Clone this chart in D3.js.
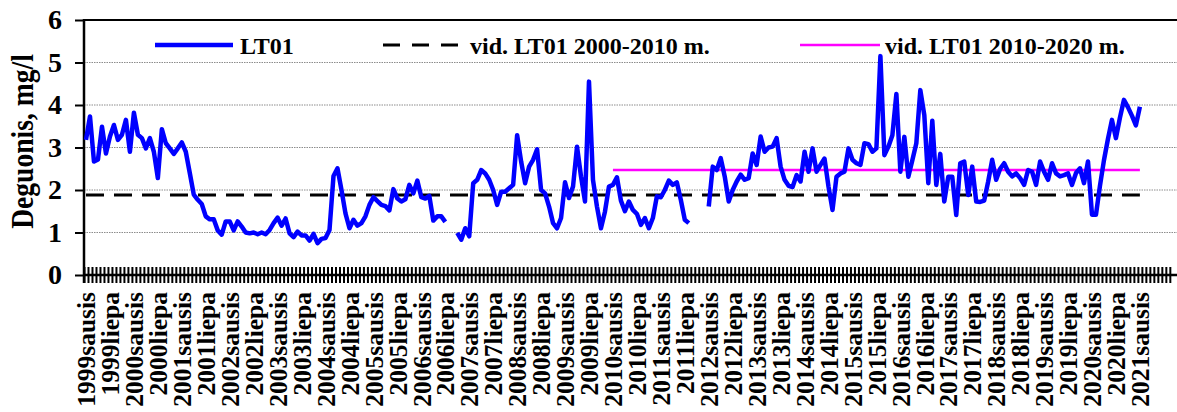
<!DOCTYPE html>
<html>
<head>
<meta charset="utf-8">
<script src="https://cdn.jsdelivr.net/npm/d3@7"></script>
<style>
  html, body { margin: 0; padding: 0; background: #fff; }
  svg { display: block; }
  text { font-family: "Liberation Serif", "Times New Roman", serif; font-weight: bold; fill: #000; }
</style>
</head>
<body>
<svg id="chart" width="1177" height="412"></svg>
<script>
// Monthly dissolved oxygen, station LT01 (mg/l), starting 1999 January.
// null marks months without a measurement.
const lt01 = [
  // 1999
  3.18, 3.73, 2.67, 2.72, 3.49, 2.86, 3.26, 3.53, 3.18, 3.30, 3.65, 2.90,
  // 2000
  3.82, 3.30, 3.22, 2.98, 3.22, 2.90, 2.28, 3.43, 3.10, 2.98, 2.85, 2.98,
  // 2001
  3.12, 2.90, 2.40, 1.89, 1.77, 1.67, 1.38, 1.31, 1.31, 1.05, 0.95, 1.26,
  // 2002
  1.26, 1.05, 1.26, 1.14, 1.00, 0.98, 1.00, 0.96, 1.00, 0.96, 1.06, 1.22,
  // 2003
  1.35, 1.16, 1.33, 0.98, 0.89, 1.02, 0.93, 0.93, 0.81, 0.97, 0.75, 0.85,
  // 2004
  0.87, 1.06, 2.33, 2.51, 2.00, 1.45, 1.10, 1.30, 1.16, 1.22, 1.38, 1.65,
  // 2005
  1.83, 1.74, 1.65, 1.62, 1.52, 2.02, 1.80, 1.73, 1.78, 2.12, 1.92, 2.22,
  // 2006
  1.83, 1.80, 1.86, 1.28, 1.38, 1.38, 1.25, null, null, 0.99, 0.83, 1.10,
  // 2007
  0.91, 2.16, 2.24, 2.47, 2.39, 2.24, 2.00, 1.65, 1.96, 1.96, 2.04, 2.12,
  // 2008
  3.29, 2.67, 2.16, 2.55, 2.71, 2.96, 2.00, 1.92, 1.61, 1.22, 1.10, 1.34,
  // 2009
  2.18, 1.81, 2.08, 3.02, 2.32, 1.73, 4.55, 2.24, 1.61, 1.10, 1.49, 2.08,
  // 2010
  2.12, 2.30, 1.75, 1.50, 1.73, 1.53, 1.44, 1.18, 1.34, 1.10, 1.34, 1.85,
  // 2011
  1.83, 2.00, 2.22, 2.12, 2.18, 1.77, 1.30, 1.22, null, null, null, null,
  // 2012
  1.61, 2.55, 2.47, 2.75, 2.32, 1.73, 2.00, 2.20, 2.36, 2.24, 2.28, 2.86,
  // 2013
  2.59, 3.26, 2.90, 3.00, 3.02, 3.22, 2.55, 2.24, 2.10, 2.07, 2.35, 2.20,
  // 2014
  2.90, 2.43, 2.98, 2.43, 2.59, 2.74, 2.08, 1.53, 2.31, 2.39, 2.43, 2.98,
  // 2015
  2.71, 2.63, 2.59, 3.10, 3.08, 2.90, 2.98, 5.15, 2.82, 3.02, 3.29, 4.26,
  // 2016
  2.43, 3.25, 2.31, 2.70, 3.10, 4.35, 3.76, 2.16, 3.63, 2.12, 2.85, 1.73,
  // 2017
  2.31, 2.31, 1.41, 2.63, 2.67, 1.88, 2.55, 1.73, 1.72, 1.75, 2.20, 2.71,
  // 2018
  2.24, 2.50, 2.63, 2.43, 2.32, 2.39, 2.28, 2.12, 2.47, 2.43, 2.12, 2.67,
  // 2019
  2.43, 2.24, 2.63, 2.39, 2.32, 2.35, 2.39, 2.12, 2.40, 2.51, 2.16, 2.67,
  // 2020
  1.42, 1.42, 2.10, 2.70, 3.20, 3.65, 3.22, 3.70, 4.12, 3.95, 3.75, 3.52,
  // 2021
  3.96
];

// Period averages
const avg2000_2010 = 1.88;
const avg2010_2020 = 2.47;
const avg2010Start = "2010-01";   // first month of the 2010-2020 average line

const yTicks = [0, 1, 2, 3, 4, 5, 6];

const tickLabels = [
  "1999sausis", "1999liepa", "2000sausis", "2000liepa", "2001sausis", "2001liepa",
  "2002sausis", "2002liepa", "2003sausis", "2003liepa", "2004sausis", "2004liepa",
  "2005sausis", "2005liepa", "2006sausis", "2006liepa", "2007sausis", "2007liepa",
  "2008sausis", "2008liepa", "2009sausis", "2009liepa", "2010sausis", "2010liepa",
  "2011sausis", "2011liepa", "2012sausis", "2012liepa", "2013sausis", "2013liepa",
  "2014sausis", "2014liepa", "2015sausis", "2015liepa", "2016sausis", "2016liepa",
  "2017sausis", "2017liepa", "2018sausis", "2018liepa", "2019sausis", "2019liepa",
  "2020sausis", "2020liepa", "2021sausis"
];

const legendNames = ["LT01", "vid. LT01 2000-2010 m.", "vid. LT01 2010-2020 m."];

// Category axis: one slot per month; the axis runs on past the last measurement.
const months = [];
for (let y = 1999; y <= 2021; y++) {
  for (let m = 1; m <= 12; m++) {
    if (y === 2021 && m > 9) break;
    months.push(`${y}-${String(m).padStart(2, "0")}`);
  }
}
const seriesMonths = months.slice(0, lt01.length);
const labelMonths = tickLabels.map((_, i) => months[i * 6]);

const W = 1177, H = 412;
const plot = { left: 84, top: 20, bottom: 275 };
const slot = 3.992;

const svg = d3.select("#chart");

const x = d3.scaleBand()
  .domain(months)
  .range([plot.left, plot.left + slot * months.length])
  .paddingInner(0).paddingOuter(0);
const xc = k => x(k) + x.bandwidth() / 2;

const y = d3.scaleLinear().domain([0, 6]).range([plot.bottom, plot.top]);

// horizontal gridlines
svg.append("g")
  .selectAll("line")
  .data(yTicks.filter(v => v > 0 && v < 6))
  .join("line")
  .attr("x1", plot.left).attr("x2", W)
  .attr("y1", d => y(d)).attr("y2", d => y(d))
  .attr("stroke", "#8c8c8c")
  .attr("stroke-width", 1)
  .attr("stroke-dasharray", "1.5,1");

// top frame line
svg.append("line")
  .attr("x1", plot.left).attr("x2", W)
  .attr("y1", y(6)).attr("y2", y(6))
  .attr("stroke", "#000").attr("stroke-width", 2);

// month tick marks crossing the category axis
svg.append("g")
  .selectAll("line")
  .data(months)
  .join("line")
  .attr("x1", d => x(d) + 0.5).attr("x2", d => x(d) + 0.5)
  .attr("y1", plot.bottom - 8).attr("y2", plot.bottom + 8)
  .attr("stroke", "#000").attr("stroke-width", 2);

// category axis line
svg.append("line")
  .attr("x1", plot.left).attr("x2", W)
  .attr("y1", plot.bottom).attr("y2", plot.bottom)
  .attr("stroke", "#000").attr("stroke-width", 2.5);

// value axis
const yAxis = svg.append("g")
  .attr("transform", `translate(${plot.left},0)`)
  .call(d3.axisLeft(y).tickValues(yTicks).tickFormat(d3.format("d")).tickSize(9).tickPadding(13));
yAxis.select(".domain").remove();
yAxis.selectAll(".tick line").attr("stroke", "#000").attr("stroke-width", 2);
yAxis.selectAll(".tick text")
  .attr("font-size", 28)
  .attr("font-family", '"Liberation Serif", "Times New Roman", serif')
  .attr("font-weight", "bold")
  .attr("fill", "#000");
svg.append("line")
  .attr("x1", plot.left).attr("x2", plot.left)
  .attr("y1", plot.top - 1).attr("y2", plot.bottom + 8)
  .attr("stroke", "#000").attr("stroke-width", 2.5);

// month labels, every six months
const labelMap = new Map(labelMonths.map((k, i) => [k, tickLabels[i]]));
const xAxis = svg.append("g")
  .attr("transform", `translate(0,${plot.bottom + 17})`)
  .call(d3.axisBottom(x).tickValues(labelMonths).tickFormat(k => labelMap.get(k)).tickSize(0).tickPadding(0));
xAxis.select(".domain").remove();
xAxis.selectAll(".tick text")
  .attr("font-size", 25.5)
  .attr("font-family", '"Liberation Serif", "Times New Roman", serif')
  .attr("font-weight", "bold")
  .attr("fill", "#000")
  .attr("text-anchor", "end")
  .attr("transform", "rotate(-90)")
  .attr("x", 0).attr("y", 0).attr("dy", "0.36em");

// axis title
svg.append("text")
  .attr("transform", `translate(33,141.5) rotate(-90) scale(0.89,1)`)
  .attr("text-anchor", "middle")
  .attr("font-size", 31)
  .text("Deguonis, mg/l");

// period averages
const flat = (val, from) => seriesMonths.filter(k => k >= from).map(k => ({ k, v: val }));
const line = d3.line().defined(d => d.v != null).x(d => xc(d.k)).y(d => y(d.v));

svg.append("path")
  .datum(flat(avg2000_2010, months[0]))
  .attr("d", line)
  .attr("fill", "none").attr("stroke", "#000")
  .attr("stroke-width", 3).attr("stroke-dasharray", "18,10");

svg.append("path")
  .datum(flat(avg2010_2020, avg2010Start))
  .attr("d", line)
  .attr("fill", "none").attr("stroke", "#ff00ff")
  .attr("stroke-width", 2.5);

// measured series
svg.append("path")
  .datum(seriesMonths.map((k, i) => ({ k, v: lt01[i] })))
  .attr("d", line)
  .attr("fill", "none").attr("stroke", "#0000ff")
  .attr("stroke-width", 4.5)
  .attr("stroke-linejoin", "round");

// legend
const legendY = 45;
const legend = [
  { x1: 155, x2: 233, tx: 240, stroke: "#0000ff", w: 4.5, dash: null },
  { x1: 383, x2: 458, tx: 470, stroke: "#000", w: 3, dash: "17,12" },
  { x1: 800, x2: 880, tx: 885, stroke: "#ff00ff", w: 2.5, dash: null }
];
legend.forEach((d, i) => {
  svg.append("line")
    .attr("x1", d.x1).attr("x2", d.x2)
    .attr("y1", legendY).attr("y2", legendY)
    .attr("stroke", d.stroke).attr("stroke-width", d.w)
    .attr("stroke-dasharray", d.dash);
  svg.append("text")
    .attr("x", d.tx).attr("y", legendY + 9)
    .attr("font-size", 24)
    .text(legendNames[i]);
});
</script>
</body>
</html>
